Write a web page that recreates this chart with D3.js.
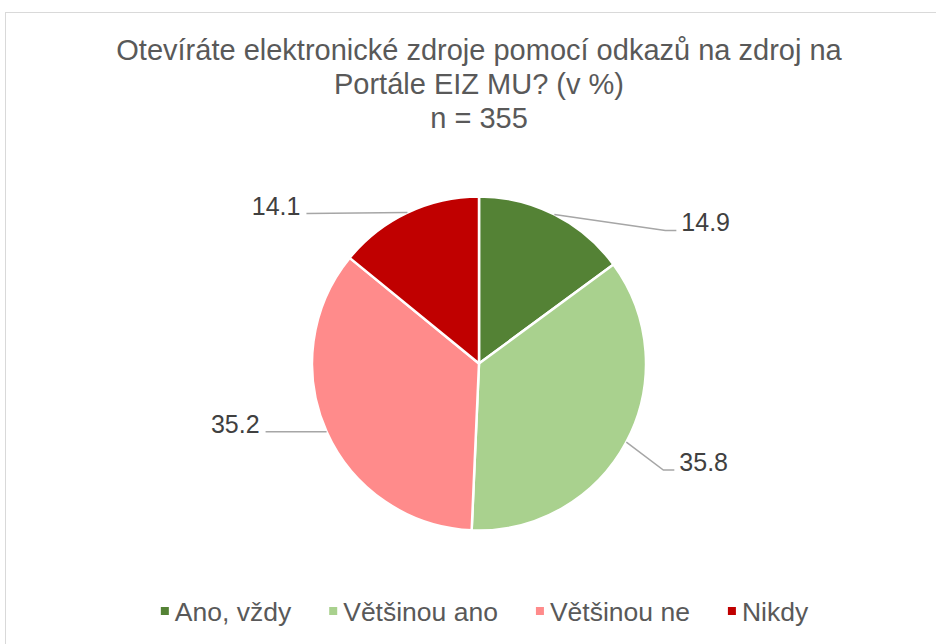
<!DOCTYPE html>
<html>
<head>
<meta charset="utf-8">
<script src="https://cdn.jsdelivr.net/npm/d3@7"></script>
<style>
  body { margin: 0; background: #fff; }
  text { font-family: "Liberation Sans", Arial, sans-serif; }
</style>
</head>
<body>
<div id="chart-area"></div>
<script>
// data
const categories = ['Ano, vždy', 'Většinou ano', 'Většinou ne', 'Nikdy'];
const values = [14.9, 35.8, 35.2, 14.1];
const colors = ['#548235', '#A9D18E', '#FF8B8B', '#C00000'];
const titleLines = ['Otevíráte elektronické zdroje pomocí odkazů na zdroj na', 'Portále EIZ MU? (v %)', 'n = 355'];

// label layout: offset of the leader's elbow from the slice edge, and tail length
const labelOffsets = [[111, 16, 11], [37, 28, 11], [-61, 0, 0], [-101, 1, 0]];

const width = 936;
const height = 644;
const cx = 479, cy = 363.5, radius = 167;

const svg = d3.select('#chart-area')
    .append('svg')
    .attr('width', width)
    .attr('height', height);

// chart frame
svg.append('rect')
    .attr('x', 5.5)
    .attr('y', 12.5)
    .attr('width', 960)
    .attr('height', 700)
    .attr('fill', 'none')
    .attr('stroke', '#D9D9D9')
    .attr('stroke-width', 1);

// title
svg.append('text')
    .attr('x', 479)
    .attr('y', 60)
    .attr('text-anchor', 'middle')
    .attr('fill', '#595959')
    .style('font-size', '29px')
    .selectAll('tspan')
    .data(titleLines)
    .enter()
    .append('tspan')
    .attr('x', 479)
    .attr('dy', (d, i) => i === 0 ? 0 : 34)
    .text(d => d);

const pie = d3.pie().sort(null).value(d => d);
const arcs = pie(values);

const arc = d3.arc().innerRadius(0).outerRadius(radius);

const g = svg.append('g')
    .attr('transform', 'translate(' + cx + ', ' + cy + ')');

g.selectAll('path')
    .data(arcs)
    .enter()
    .append('path')
    .attr('d', arc)
    .attr('fill', (d, i) => colors[i])
    .attr('stroke', '#fff')
    .attr('stroke-width', 2.5)
    .attr('stroke-linejoin', 'round');

// leader lines and labels
arcs.forEach((d, i) => {
    const mid = (d.startAngle + d.endAngle) / 2;
    const ax = Math.sin(mid) * radius;
    const ay = -Math.cos(mid) * radius;
    const off = labelOffsets[i];
    const ex = ax + off[0];
    const ey = ay + off[1];
    const right = off[0] > 0;
    const tx = right ? ex + off[2] : ex - off[2];

    g.append('polyline')
        .attr('points', [[ax, ay], [ex, ey], [tx, ey]].map(p => p.join(',')).join(' '))
        .attr('fill', 'none')
        .attr('stroke', '#A6A6A6')
        .attr('stroke-width', 1.5);

    g.append('text')
        .attr('x', right ? tx + 5 : tx - 6)
        .attr('y', ey + 1)
        .attr('text-anchor', right ? 'start' : 'end')
        .attr('fill', '#404040')
        .style('font-size', '25px')
        .text(d3.format('.1f')(d.data));
});

// legend
const legend = svg.append('g');
const items = legend.selectAll('g')
    .data(categories)
    .enter()
    .append('g');

items.append('rect')
    .attr('y', 607)
    .attr('width', 8)
    .attr('height', 8)
    .attr('fill', (d, i) => colors[i]);

items.append('text')
    .attr('x', 14)
    .attr('y', 621)
    .attr('fill', '#595959')
    .style('font-size', '26.5px')
    .text(d => d);

let xPos = 0;
const gap = 38;
items.each(function() {
    const w = 14 + d3.select(this).select('text').node().getComputedTextLength();
    d3.select(this).attr('transform', 'translate(' + xPos + ', 0)');
    xPos += w + gap;
});
const total = xPos - gap;
legend.attr('transform', 'translate(' + (484.5 - total / 2) + ', 0)');
</script>
</body>
</html>
